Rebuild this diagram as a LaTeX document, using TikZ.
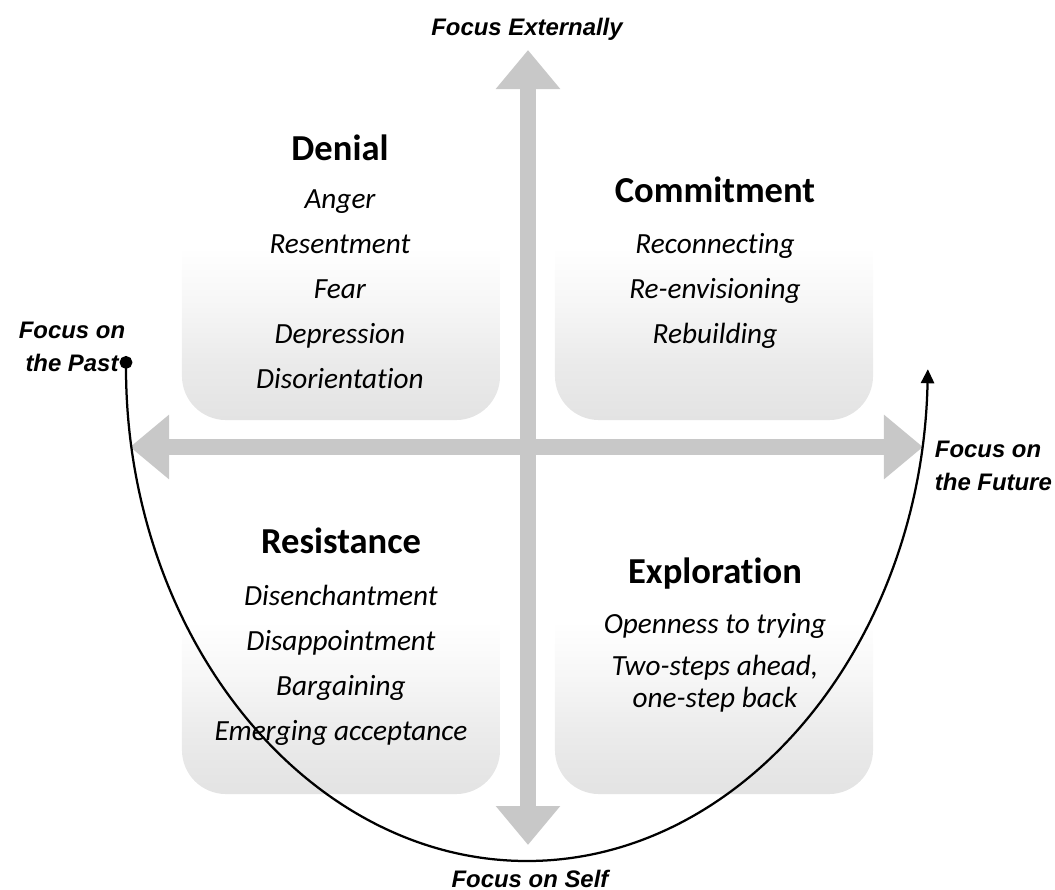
\documentclass[tikz,border=0pt]{standalone}
\usepackage{fontspec}
\setmainfont{Carlito}[Ligatures=NoCommon]
\newfontfamily\arialfont{Liberation Sans}
\usetikzlibrary{arrows.meta, positioning}
\definecolor{axisgray}{RGB}{200,200,200}
% white upper half, fading softly to light grey at the bottom
\pgfdeclareverticalshading{quadfade}{100bp}{color(0bp)=(black!11); color(25bp)=(black!11);
    color(34bp)=(black!8); color(43bp)=(black!3.5); color(52bp)=(white); color(100bp)=(white)}

\begin{document}
\begin{tikzpicture}[x=0.025cm, y=-0.025cm,
        quad/.style={rounded corners=1.1cm, minimum width=7.95cm, minimum height=8cm,
            shading=quadfade, inner sep=0pt},
        title/.style={anchor=base, font=\bfseries\fontsize{26}{30}\selectfont},
        feeling/.style={anchor=base, font=\itshape\fontsize{20.8}{25}\selectfont},
        focus/.style={font=\arialfont\bfseries\itshape\fontsize{17}{24}\selectfont},
        bigarrow/.style={axisgray, line width=0.4cm,
            {Triangle[length=0.975cm, width=1.55cm]}-{Triangle[length=0.975cm, width=1.55cm]}}]
    \useasboundingbox (0,0) rectangle (1055,890);

    % shaded quadrants
    \node[quad] (nw) at (341,260) {};
    \node[quad] (ne) at (714,260) {};
    \node[quad] (sw) at (341,634) {};
    \node[quad] (se) at (714,634) {};

    % the two axes
    \coordinate (ax-n) at (528,50);
    \coordinate (ax-s) at (528,845);
    \coordinate (ax-w) at (130,447);
    \coordinate (ax-e) at (923,447);
    \draw[bigarrow] (ax-s) -- (ax-n);
    \draw[bigarrow] (ax-w) -- (ax-e);

    % axis labels
    \node[focus, anchor=base] (externally) at (527,35) {Focus Externally};
    \node[focus, anchor=base] (self) at (530,887) {Focus on Self};
    \node[focus, align=center] (past) at (72,347) {Focus on\\the Past};
    \node[focus, align=left, anchor=west] (future) at (930,466) {Focus on\\the Future};

    % quadrant texts
    \node[title] (denial) at (340,160) {Denial};
    \foreach \feel [count=\i] in {Anger, Resentment, Fear, Depression, Disorientation}
        \node[feeling] (denial-\i) at (340,{208+45*(\i-1)}) {\feel};

    \node[title] (commitment) at (715,202) {Commitment};
    \foreach \feel [count=\i] in {Reconnecting, Re-envisioning, Rebuilding}
        \node[feeling] (commitment-\i) at (715,{253+45*(\i-1)}) {\feel};

    \node[title] (resistance) at (341,553) {Resistance};
    \foreach \feel [count=\i] in {Disenchantment, Disappointment, Bargaining, Emerging acceptance}
        \node[feeling] (resistance-\i) at (341,{605+45*(\i-1)}) {\feel};

    \node[title] (exploration) at (715,583) {Exploration};
    \node[feeling] (exploration-1) at (715,633) {Openness to trying};
    \node[feeling] (exploration-2) at (715,675) {Two-steps ahead,};
    \node[feeling] (exploration-3) at (715,707) {one-step back};

    % path from past to future
    \coordinate (start) at (126,356);
    \draw[line width=1.6pt, {Circle[length=0.32cm]}-{Triangle[length=0.35cm, width=0.33cm]}]
        (start) arc[start angle=180, end angle=1.5, x radius=401, y radius=505];
\end{tikzpicture}
\end{document}
